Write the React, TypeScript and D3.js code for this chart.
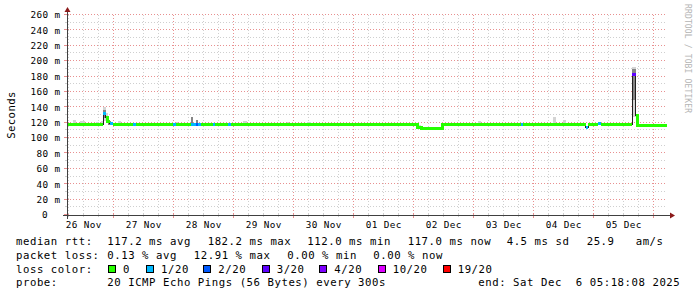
import React from "react";
import * as d3 from "d3";

// ---------- data ----------
const END_TIME = new Date(2025, 11, 6, 5, 18, 8);
const SPAN_HOURS = 240;
const START_TIME = new Date(END_TIME.getTime() - SPAN_HOURS * 3600e3);

// median rtt steps: hours since start, median (ms), lost pings (of 20)
const stepHours = [0, 14.4, 15.5, 16.3, 17.0, 18.4, 26.3, 27.6, 42.4, 43.5, 49.6, 51.6, 52.5, 53.6, 58.3, 59.3, 64.3, 65.6, 140.1, 141.6, 150.2, 181.6, 182.5, 207.4, 208.5, 212.4, 213.6, 226.1, 227.5, 228.3];
const stepMedian = [117.2, 132.6, 127.0, 121.0, 118.5, 117.2, 117.2, 117.2, 117.2, 117.2, 117.2, 117.2, 117.2, 117.2, 117.2, 117.2, 117.2, 117.2, 113.5, 112.0, 117.2, 117.2, 117.2, 113.5, 117.4, 118.8, 117.2, 182.2, 129.5, 117.0];
const stepLoss = [0, 1, 0, 0, 1, 0, 1, 0, 1, 0, 1, 2, 1, 0, 1, 0, 1, 0, 0, 0, 0, 1, 0, 1, 0, 1, 0, 3, 0, 0];

// smoke (ping spread): [startHour, endHour, lowMs, highMs]
const smokeOuter: [number, number, number, number][] = [
  [2.4, 3.6, 117, 123],
  [5.2, 7.2, 117, 122],
  [11.6, 12.8, 117, 121],
  [13.6, 14.4, 117, 122],
  [14.4, 15.5, 122, 141],
  [15.5, 16.3, 120, 132],
  [20.3, 21.6, 117, 122],
  [43.6, 44.4, 117, 121],
  [70.4, 72.0, 117, 122],
  [88.0, 88.8, 117, 121],
  [96.0, 97.6, 117, 121],
  [140.1, 141.6, 112, 117],
  [164.4, 165.6, 117, 122],
  [194.3, 195.6, 117, 127],
  [198.3, 199.6, 117, 124],
  [226.1, 227.5, 128, 192],
];
const smokeInner: [number, number, number, number][] = [
  [14.4, 15.5, 126, 136],
  [15.5, 16.3, 121, 129],
  [16.3, 17.4, 117, 122],
  [49.6, 50.4, 117, 127],
  [51.5, 52.3, 117, 124],
  [64.3, 65.6, 117, 120],
  [226.1, 227.5, 150, 190],
];

const yMajorValues = [0, 20, 40, 60, 80, 100, 120, 140, 160, 180, 200, 220, 240, 260];
const yMinorValues = [10, 30, 50, 70, 90, 110, 130, 150, 170, 190, 210, 230, 250];
const dayLabels = ["26 Nov", "27 Nov", "28 Nov", "29 Nov", "30 Nov", "01 Dec", "02 Dec", "03 Dec", "04 Dec", "05 Dec"];

const lossLevels = [0, 1, 2, 3, 4, 10, 19];
const lossLabels = ["0", "1/20", "2/20", "3/20", "4/20", "10/20", "19/20"];
const lossColors = ["#26ff00", "#00b8ff", "#0059ff", "#5e00ff", "#7e00ff", "#dd00ff", "#ff0000"];

const rttTitle = "median rtt:";
const rttStats = ["117.2 ms avg", "182.2 ms max", "112.0 ms min", "117.0 ms now", "4.5 ms sd", "25.9", "am/s"];
const lossTitle = "packet loss:";
const lossStats = ["0.13 % avg", "12.91 % max", "0.00 % min", "0.00 % now"];
const colorTitle = "loss color:";
const probeTitle = "probe:";
const probeText = "20 ICMP Echo Pings (56 Bytes) every 300s";
const endText = "end: Sat Dec  6 05:18:08 2025";
const yTitle = "Seconds";
const watermark = "RRDTOOL / TOBI OETIKER";

// ---------- layout ----------
const W = 697, H = 297;
const X0 = 67, X1 = 667, YTOP = 15, YBOT = 215;
const rttX = [107.3, 207.7, 307.3, 407.7, 506.7, 586.7, 635.7];
const lossX = [107.3, 193.8, 287.3, 373.3];
const boxX = [108, 146, 203.3, 261.7, 319.3, 377.7, 442.7];
const rowY = [245, 258.5, 272.5, 286];

const MONO = "'DejaVu Sans Mono', monospace";

function colorFor(loss: number) {
  let c = lossColors[0];
  lossLevels.forEach((lv, i) => { if (loss >= lv) c = lossColors[i]; });
  return c;
}

export default function App() {
  const x = d3.scaleTime().domain([START_TIME, END_TIME]).range([X0, X1]);
  const y = d3.scaleLinear().domain([0, 260]).range([YBOT, YTOP]);
  const hx = (h: number) => x(new Date(START_TIME.getTime() + h * 3600e3));
  const snap = (v: number) => Math.round(v) + 0.5;

  const minorX = d3.timeHour.every(6)!.range(START_TIME, END_TIME).filter((d) => d.getHours() !== 0);
  const majorX = d3.timeDay.range(START_TIME, END_TIME);
  const labelDays = d3.timeDay.range(d3.timeDay.floor(START_TIME), END_TIME).map((d) => d3.timeHour.offset(d, 12));

  // median line
  const pts: [number, number][] = stepHours.map((h, i) => [h, stepMedian[i]]);
  pts.push([SPAN_HOURS, stepMedian[stepMedian.length - 1]]);
  const line = d3.line<[number, number]>().x((d) => hx(d[0])).y((d) => y(d[1])).curve(d3.curveStepAfter);

  const runs: { color: string; pts: [number, number][] }[] = [];
  let i = 0;
  while (i < stepHours.length) {
    const c = colorFor(stepLoss[i]);
    let j = i;
    while (j + 1 < stepHours.length && colorFor(stepLoss[j + 1]) === c) j++;
    const rp: [number, number][] = [];
    for (let k = i; k <= j; k++) rp.push([stepHours[k], stepMedian[k]]);
    const endH = j + 1 < stepHours.length ? stepHours[j + 1] : SPAN_HOURS;
    rp.push([endH, stepMedian[j]]);
    runs.push({ color: c, pts: rp });
    i = j + 1;
  }

  const minorCol = "#cfcfcf";
  const majorCol = "#e89090";
  const axisCol = "#404040";
  const arrowCol = "#8b1a1a";

  return (
    <svg width={W} height={H} viewBox={`0 0 ${W} ${H}`} style={{ display: "block", position: "absolute", left: 0, top: 0, background: "#fff" }}>
      <rect x={0} y={0} width={W} height={H} fill="#fff" />
      {/* grid */}
      <g shapeRendering="crispEdges" strokeWidth={1} strokeDasharray="1,2">
        {yMinorValues.map((v) => (
          <line key={"ym" + v} x1={X0} x2={X1} y1={snap(y(v)) - 1} y2={snap(y(v)) - 1} stroke={minorCol} />
        ))}
        {minorX.map((d, k) => (
          <line key={"xm" + k} x1={snap(x(d)) - 1} x2={snap(x(d)) - 1} y1={YTOP} y2={YBOT} stroke={minorCol} />
        ))}
        {yMajorValues.slice(1).map((v) => (
          <line key={"yM" + v} x1={X0} x2={X1} y1={snap(y(v)) - 1} y2={snap(y(v)) - 1} stroke={majorCol} />
        ))}
        {majorX.map((d, k) => (
          <line key={"xM" + k} x1={snap(x(d)) - 1} x2={snap(x(d)) - 1} y1={YTOP} y2={YBOT} stroke={majorCol} />
        ))}
      </g>

      {/* smoke */}
      <g shapeRendering="crispEdges">
        {smokeOuter.map((s, k) => (
          <rect key={"so" + k} x={hx(s[0])} width={hx(s[1]) - hx(s[0])} y={y(s[3])} height={y(s[2]) - y(s[3])} fill="#d4d4d4" />
        ))}
        {smokeInner.map((s, k) => (
          <rect key={"si" + k} x={hx(s[0])} width={hx(s[1]) - hx(s[0])} y={y(s[3])} height={y(s[2]) - y(s[3])} fill="#858585" />
        ))}
      </g>

      {/* median */}
      <path d={line(pts) || ""} fill="none" stroke="#202020" strokeWidth={1} shapeRendering="crispEdges" />
      {runs.map((r, k) => (
        <path key={"r" + k} d={line(r.pts) || ""} fill="none" stroke={r.color} strokeWidth={3} shapeRendering="crispEdges" />
      ))}

      {/* axes */}
      <g shapeRendering="crispEdges">
        {minorX.map((d, k) => (
          <line key={"tm" + k} x1={snap(x(d)) - 1} x2={snap(x(d)) - 1} y1={YBOT - 1} y2={YBOT + 2} stroke={minorCol} />
        ))}
        {majorX.map((d, k) => (
          <line key={"tM" + k} x1={snap(x(d)) - 1} x2={snap(x(d)) - 1} y1={YBOT - 2} y2={YBOT + 3} stroke={majorCol} />
        ))}
        {yMinorValues.map((v) => (
          <line key={"tym" + v} x1={X0 - 2} x2={X0 + 1} y1={snap(y(v)) - 1} y2={snap(y(v)) - 1} stroke={minorCol} />
        ))}
        {yMajorValues.map((v) => (
          <line key={"tyM" + v} x1={X0 - 3} x2={X0 + 2} y1={snap(y(v)) - 1} y2={snap(y(v)) - 1} stroke={majorCol} />
        ))}
        <line x1={X0 - 4} x2={X1 + 5} y1={YBOT + 0.5} y2={YBOT + 0.5} stroke={axisCol} />
        <line x1={X0 + 0.5} x2={X0 + 0.5} y1={YBOT + 4} y2={YTOP - 5} stroke={axisCol} />
      </g>
      <path d={`M${X1 + 3},${YBOT - 2.5} L${X1 + 8},${YBOT + 0.5} L${X1 + 3},${YBOT + 3.5} Z`} fill={arrowCol} />
      <path d={`M${X0 - 2.5},${YTOP - 3} L${X0 + 0.5},${YTOP - 8} L${X0 + 3.5},${YTOP - 3} Z`} fill={arrowCol} />

      {/* axis labels */}
      <g fontFamily={MONO} fontSize={9.33} letterSpacing={0.38} fill="#000">
        {yMajorValues.map((v) => (
          <text key={"yl" + v} x={v === 0 ? 48 : 60.5} y={y(v) + 3.3} textAnchor="end">
            {v === 0 ? "0" : `${v} m`}
          </text>
        ))}
        {labelDays.map((d, k) => (
          <text key={"xl" + k} x={x(d)} y={228.3} textAnchor="middle">
            {dayLabels[k]}
          </text>
        ))}
      </g>
      <text transform={`translate(15,${(YTOP + YBOT) / 2}) rotate(-90)`} textAnchor="middle" fontFamily={MONO} fontSize={10.67} letterSpacing={0.4} fill="#000">
        {yTitle}
      </text>
      <text transform={`translate(685,4) rotate(90)`} fontFamily={MONO} fontSize={8} letterSpacing={0.15} fill="#b4b4b4">
        {watermark}
      </text>

      {/* legend */}
      <g fontFamily={MONO} fontSize={10.67} letterSpacing={0.55} fill="#000">
        <text x={16} y={rowY[0]}>{rttTitle}</text>
        {rttStats.map((s, k) => (
          <text key={"rs" + k} x={rttX[k]} y={rowY[0]}>{s}</text>
        ))}
        <text x={16} y={rowY[1]}>{lossTitle}</text>
        {lossStats.map((s, k) => (
          <text key={"ls" + k} x={lossX[k]} y={rowY[1]}>{s}</text>
        ))}
        <text x={16} y={rowY[2]}>{colorTitle}</text>
        {lossLabels.map((s, k) => (
          <g key={"lc" + k}>
            <rect x={Math.round(boxX[k]) + 0.5} y={265.5} width={7} height={7} fill={lossColors[k]} stroke="#000" strokeWidth={1} shapeRendering="crispEdges" />
            <text x={boxX[k] + 15} y={rowY[2]}>{s}</text>
          </g>
        ))}
        <text x={16} y={rowY[3]}>{probeTitle}</text>
        <text x={107.3} y={rowY[3]}>{probeText}</text>
        <text x={478.3} y={rowY[3]} xmlSpace="preserve" style={{ whiteSpace: "pre" }}>{endText}</text>
      </g>
    </svg>
  );
}
